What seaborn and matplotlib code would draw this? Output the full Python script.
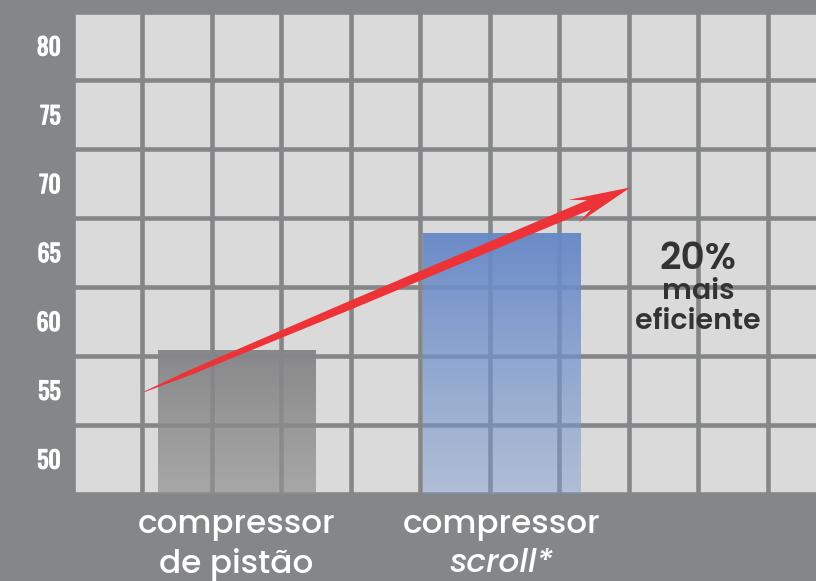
import numpy as np
import pandas as pd
import matplotlib
matplotlib.use("Agg")
import matplotlib.pyplot as plt
import matplotlib.patheffects as pe
from matplotlib.patches import Polygon
from matplotlib.transforms import IdentityTransform
import seaborn as sns

# ---- data ----
categories = ["compressor\nde pistão", "compressor\nscroll*"]
italic_second_line = [False, True]
values = [57.9, 66.4]
yticks = [50, 55, 60, 65, 70, 75, 80]
ylim = (47.5, 82.5)
arrow_start = (-0.35, 54.86)
arrow_end = (1.487, 69.73)
note_lines = ["20%", "mais", "eficiente"]

# ---- colours ----
BG = "#858688"
CELL = "#dadada"
RED = "#ee3338"
grad_top = [(0.525, 0.525, 0.533, 0.97), (0.41, 0.54, 0.78, 0.98)]
grad_bot = [(0.57, 0.57, 0.57, 0.70), (0.49, 0.61, 0.82, 0.45)]

sns.set_theme(style="white")
plt.rcParams["font.family"] = ["Poppins", "DejaVu Sans"]

fig = plt.figure(figsize=(8.16, 5.81), dpi=100, facecolor=BG)
W, H = 816, 581
ax = fig.add_axes([72.5 / W, (H - 493.5) / H, (837 - 72.5) / W, (493.5 - 11.5) / H])
ax.set_facecolor(CELL)

df = pd.DataFrame({"cat": categories, "val": values})
sns.barplot(data=df, x="cat", y="val", hue="cat", palette=["#888888", "#6a8ac6"],
            width=0.594, legend=False, ax=ax, zorder=2, linewidth=0)

x0, x1 = -0.6177, 2.2653
ax.set_xlim(x0, x1)
ax.set_ylim(*ylim)

# grid (cells)
step_x = 69.5 / 265.0
ax.set_xticks(np.arange(x0, x1 + 1e-6, step_x), minor=True)
ax.set_yticks(np.arange(ylim[0], ylim[1] + 1e-6, 5), minor=True)
ax.grid(which="minor", color=BG, linewidth=3.3)
ax.grid(which="major", visible=False)
ax.set_axisbelow(True)
ax.tick_params(which="both", length=0)
for s in ax.spines.values():
    s.set_visible(False)

ax.set_yticks(yticks)
ax.set_yticklabels([str(t) for t in yticks], color="white", fontsize=17,
                   family=["Oswald", "DejaVu Sans"])
for lab in ax.get_yticklabels():
    lab.set_path_effects([pe.withStroke(linewidth=0.9, foreground="white")])
ax.tick_params(axis="y", pad=8.5)
ax.set_xticks([0, 1])
ax.set_xticklabels(["", ""])
ax.set_xlabel("")
ax.set_ylabel("")

# gradient fill of bars
for i, p in enumerate(ax.patches):
    bx, by = p.get_x(), p.get_y()
    bw, bh = p.get_width(), p.get_height()
    ybot = max(by, ylim[0])
    ytop = by + bh
    n = 256
    t = np.linspace(0, 1, n)[:, None]
    top = np.array(grad_top[i])
    bot = np.array(grad_bot[i])
    img = (1 - t) * top + t * bot
    img = np.repeat(img[:, None, :], 2, axis=1)
    im = ax.imshow(img, extent=[bx, bx + bw, ybot, ytop], origin="upper",
                   aspect="auto", zorder=2.5, interpolation="bilinear")
    im.set_clip_path(p)
    p.set_facecolor("none")
ax.set_xlim(x0, x1)
ax.set_ylim(*ylim)

# x labels
for i, cat in enumerate(categories):
    l1, l2 = cat.split("\n")
    ax.text(i, -0.066, l1, transform=ax.get_xaxis_transform(), ha="center", va="center",
            color="white", fontsize=23.5, fontweight="medium")
    ax.text(i, -0.147, l2, transform=ax.get_xaxis_transform(), ha="center", va="center",
            color="white", fontsize=23.5, fontweight="medium",
            fontstyle="italic" if italic_second_line[i] else "normal")

# note text
ax.text(1.741, 64.45, note_lines[0], ha="center", va="center", color="#333333",
        fontsize=27, fontweight="semibold", zorder=5)
ax.text(1.741, 62.1, note_lines[1], ha="center", va="center", color="#333333",
        fontsize=20.5, fontweight="semibold", zorder=5)
ax.text(1.741, 59.95, note_lines[2], ha="center", va="center", color="#333333",
        fontsize=20.5, fontweight="semibold", zorder=5)

# arrow (tapered wedge) built in display space
fig.canvas.draw()
p0 = ax.transData.transform(arrow_start)
p1 = ax.transData.transform(arrow_end)
d = p1 - p0
L = np.hypot(*d)
u = d / L
nrm = np.array([-u[1], u[0]])
shaft = [(0, 0.3), (50, 2.5), (225, 4.2), (390, 4.7), (L - 45, 5.0)]
upper = shaft + [(L - 62, 12.5), (L, 0)]
lower = [(L - 62, -12.5)] + [(s, -w) for s, w in reversed(shaft)]
local = upper + lower
pts = [p0 + s * u + w * nrm for s, w in local]
arrow = Polygon(pts, closed=True, facecolor=RED, edgecolor="none",
                transform=IdentityTransform(), zorder=6)
ax.add_artist(arrow)

fig.savefig("out.png", dpi=100, facecolor=BG)
